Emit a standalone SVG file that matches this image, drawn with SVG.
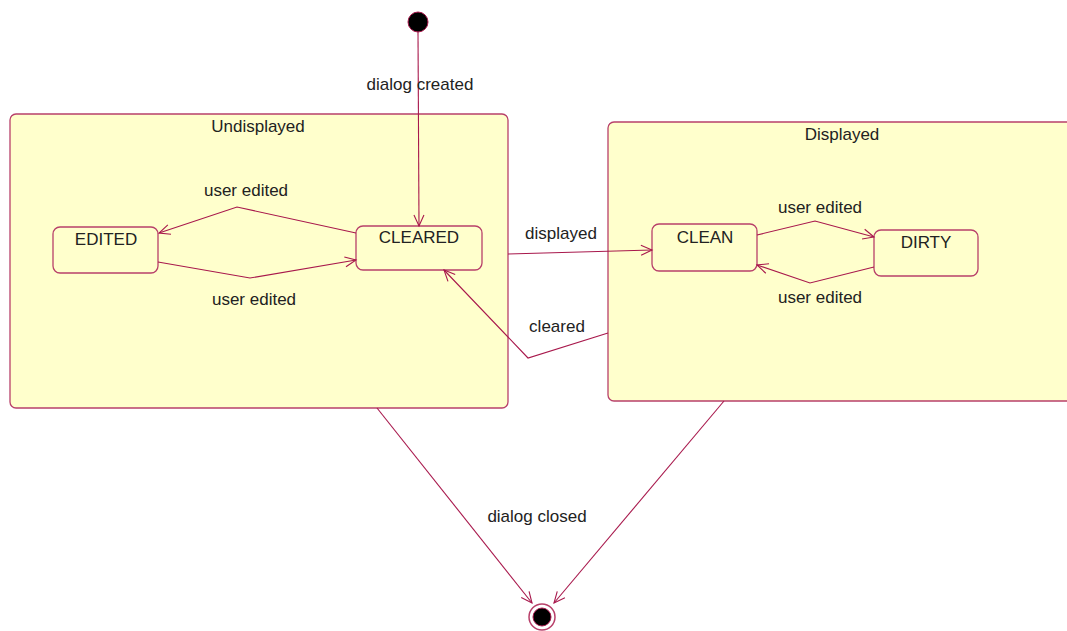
<svg xmlns="http://www.w3.org/2000/svg" width="1067" height="631" viewBox="0 0 1067 631">
  <style>
    .state { fill: #FFFFCC; stroke: #B8406A; stroke-width: 1.3; }
    .edge { fill: none; stroke: #A8184C; stroke-width: 1.1; marker-end: url(#open); }
    .lbl { font-family: "Liberation Sans", Arial, sans-serif; font-size: 17px; fill: #222; text-anchor: middle; }
  </style>
  <defs>
    <marker id="open" markerUnits="userSpaceOnUse" markerWidth="14" markerHeight="14" viewBox="-12 -7 14 14" refX="0" refY="0" orient="auto" overflow="visible">
      <path d="M -11 -5 L 0 0 L -11 5" fill="none" stroke="#A8184C" stroke-width="1.1"/>
    </marker>
  </defs>
  <rect width="1067" height="631" fill="#FFFFFF"/>

  <!-- composite states -->
  <g id="undisplayed">
    <rect class="state" x="10" y="114" width="498" height="294" rx="6"/>
    <text class="lbl" x="258" y="132">Undisplayed</text>
  </g>
  <g id="displayed">
    <rect class="state" x="608" y="122" width="480" height="279" rx="6"/>
    <text class="lbl" x="842" y="140">Displayed</text>
  </g>

  <!-- simple states -->
  <g id="edited">
    <rect class="state" x="53" y="227" width="105" height="46" rx="7"/>
    <text class="lbl" x="106" y="245">EDITED</text>
  </g>
  <g id="cleared">
    <rect class="state" x="356" y="226" width="126" height="44" rx="7"/>
    <text class="lbl" x="419" y="243">CLEARED</text>
  </g>
  <g id="clean">
    <rect class="state" x="652" y="224" width="105" height="47" rx="7"/>
    <text class="lbl" x="705" y="243">CLEAN</text>
  </g>
  <g id="dirty">
    <rect class="state" x="874" y="230" width="104" height="46" rx="7"/>
    <text class="lbl" x="926" y="248">DIRTY</text>
  </g>

  <!-- pseudo states -->
  <g id="initial">
    <circle cx="418" cy="22" r="10" fill="#000" stroke="#A8184C" stroke-width="1"/>
  </g>
  <g id="final">
    <circle cx="542" cy="617" r="13" fill="#FFFFFF" stroke="#B8406A" stroke-width="1.5"/>
    <circle cx="542" cy="617" r="9" fill="#000" stroke="#A8184C" stroke-width="1"/>
  </g>

  <!-- transitions -->
  <g id="connectors">
    <path class="edge" d="M 418 32 L 419 226"/>
    <path class="edge" d="M 356 233 L 237 207 L 159 233"/>
    <path class="edge" d="M 158 262 L 250 278 L 356 260"/>
    <path class="edge" d="M 508 254 L 652 250"/>
    <path class="edge" d="M 608 333 L 528 358 L 444 270"/>
    <path class="edge" d="M 757 235 L 815 221 L 874 237"/>
    <path class="edge" d="M 874 267 L 810 283 L 757 265"/>
    <path class="edge" d="M 377 408 L 532 603"/>
    <path class="edge" d="M 724 401 L 554 603"/>

    <text class="lbl" x="420" y="90">dialog created</text>
    <text class="lbl" x="246" y="196">user edited</text>
    <text class="lbl" x="254" y="305">user edited</text>
    <text class="lbl" x="561" y="239">displayed</text>
    <text class="lbl" x="557" y="332">cleared</text>
    <text class="lbl" x="820" y="213">user edited</text>
    <text class="lbl" x="820" y="303">user edited</text>
    <text class="lbl" x="537" y="522">dialog closed</text>
  </g>
</svg>
